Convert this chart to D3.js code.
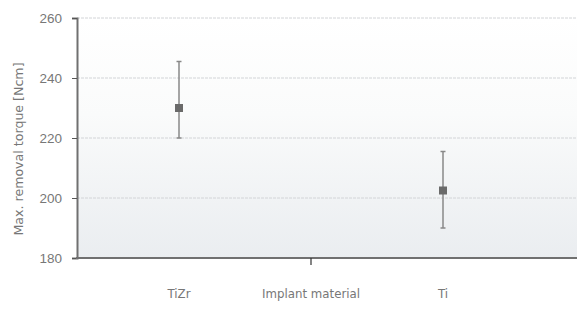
<!DOCTYPE html>
<html>
<head>
<meta charset="utf-8">
<script src="https://cdn.jsdelivr.net/npm/d3@7"></script>
<style>
  body { margin: 0; background: #fff; }
  svg { font-family: "DejaVu Sans", sans-serif; }
</style>
</head>
<body>
<div id="chart"></div>
<script>
// data
var categories = ["TiZr", "Implant material", "Ti"];
var materials = ["TiZr", "Ti"];
var means = [230, 202.5];
var lows = [220, 190];
var highs = [245.5, 215.5];
var yTicks = [180, 200, 220, 240, 260];

var width = 580, height = 319;
var plotL = 77, plotR = 577, plotT = 18, plotB = 258;

var svg = d3.select("#chart").append("svg")
    .attr("width", width).attr("height", height);

var defs = svg.append("defs");
var grad = defs.append("linearGradient").attr("id", "bg")
    .attr("x1", 0).attr("y1", 0).attr("x2", 0).attr("y2", 1);
grad.append("stop").attr("offset", "0%").attr("stop-color", "#ffffff");
grad.append("stop").attr("offset", "40%").attr("stop-color", "#fafbfb");
grad.append("stop").attr("offset", "100%").attr("stop-color", "#eaedf0");

var y = d3.scaleLinear().domain([180, 260]).range([plotB, plotT]);
var x = d3.scalePoint().domain(categories).range([179, 443]);

svg.append("rect")
    .attr("x", plotL).attr("y", plotT)
    .attr("width", plotR - plotL).attr("height", plotB - plotT)
    .attr("fill", "url(#bg)");

// gridlines
svg.selectAll(".grid").data(yTicks.slice(1)).enter().append("line")
    .attr("x1", plotL).attr("x2", plotR)
    .attr("y1", function(d) { return y(d); }).attr("y2", function(d) { return y(d); })
    .attr("stroke", "#d2d4d7").attr("stroke-width", 1)
    .attr("stroke-dasharray", "3,1");

// y axis
var yAxis = svg.append("g")
    .attr("transform", "translate(" + plotL + ",0)")
    .call(d3.axisLeft(y).tickValues(yTicks).tickSize(5).tickPadding(10));
yAxis.select(".domain").attr("stroke", "#707070").attr("stroke-width", 2);
yAxis.selectAll(".tick line").attr("stroke", "#555");
yAxis.selectAll("text").attr("fill", "#777").attr("font-size", 13.5)
    .attr("font-weight", 300);

// x axis
svg.append("line")
    .attr("x1", plotL - 1).attr("x2", plotR)
    .attr("y1", plotB).attr("y2", plotB)
    .attr("stroke", "#707070").attr("stroke-width", 2);
svg.append("line")
    .attr("x1", x("Implant material")).attr("x2", x("Implant material"))
    .attr("y1", plotB).attr("y2", plotB + 7)
    .attr("stroke", "#333").attr("stroke-width", 1.2);

svg.selectAll(".xlab").data(categories).enter().append("text")
    .attr("x", function(d) { return x(d); })
    .attr("y", 298)
    .attr("text-anchor", "middle")
    .attr("fill", "#777").attr("font-size", 11.8)
    .text(function(d) { return d; });

// y label
svg.append("text")
    .attr("transform", "translate(23,149) rotate(-90)")
    .attr("text-anchor", "middle")
    .attr("fill", "#777").attr("font-size", 12.6)
    .text("Max. removal torque [Ncm]");

// error bars and markers
var g = svg.selectAll(".pt").data(materials).enter().append("g");
g.append("line")
    .attr("x1", function(d) { return x(d); }).attr("x2", function(d) { return x(d); })
    .attr("y1", function(d, i) { return y(highs[i]); })
    .attr("y2", function(d, i) { return y(lows[i]); })
    .attr("stroke", "#888").attr("stroke-width", 1.5);
[highs, lows].forEach(function(arr) {
  g.append("line")
    .attr("x1", function(d) { return x(d) - 2.5; }).attr("x2", function(d) { return x(d) + 2.5; })
    .attr("y1", function(d, i) { return y(arr[i]); })
    .attr("y2", function(d, i) { return y(arr[i]); })
    .attr("stroke", "#888").attr("stroke-width", 1.5);
});
g.append("rect")
    .attr("x", function(d) { return x(d) - 4; })
    .attr("y", function(d, i) { return y(means[i]) - 4; })
    .attr("width", 8).attr("height", 8)
    .attr("fill", "#6a6a6a");
</script>
</body>
</html>
